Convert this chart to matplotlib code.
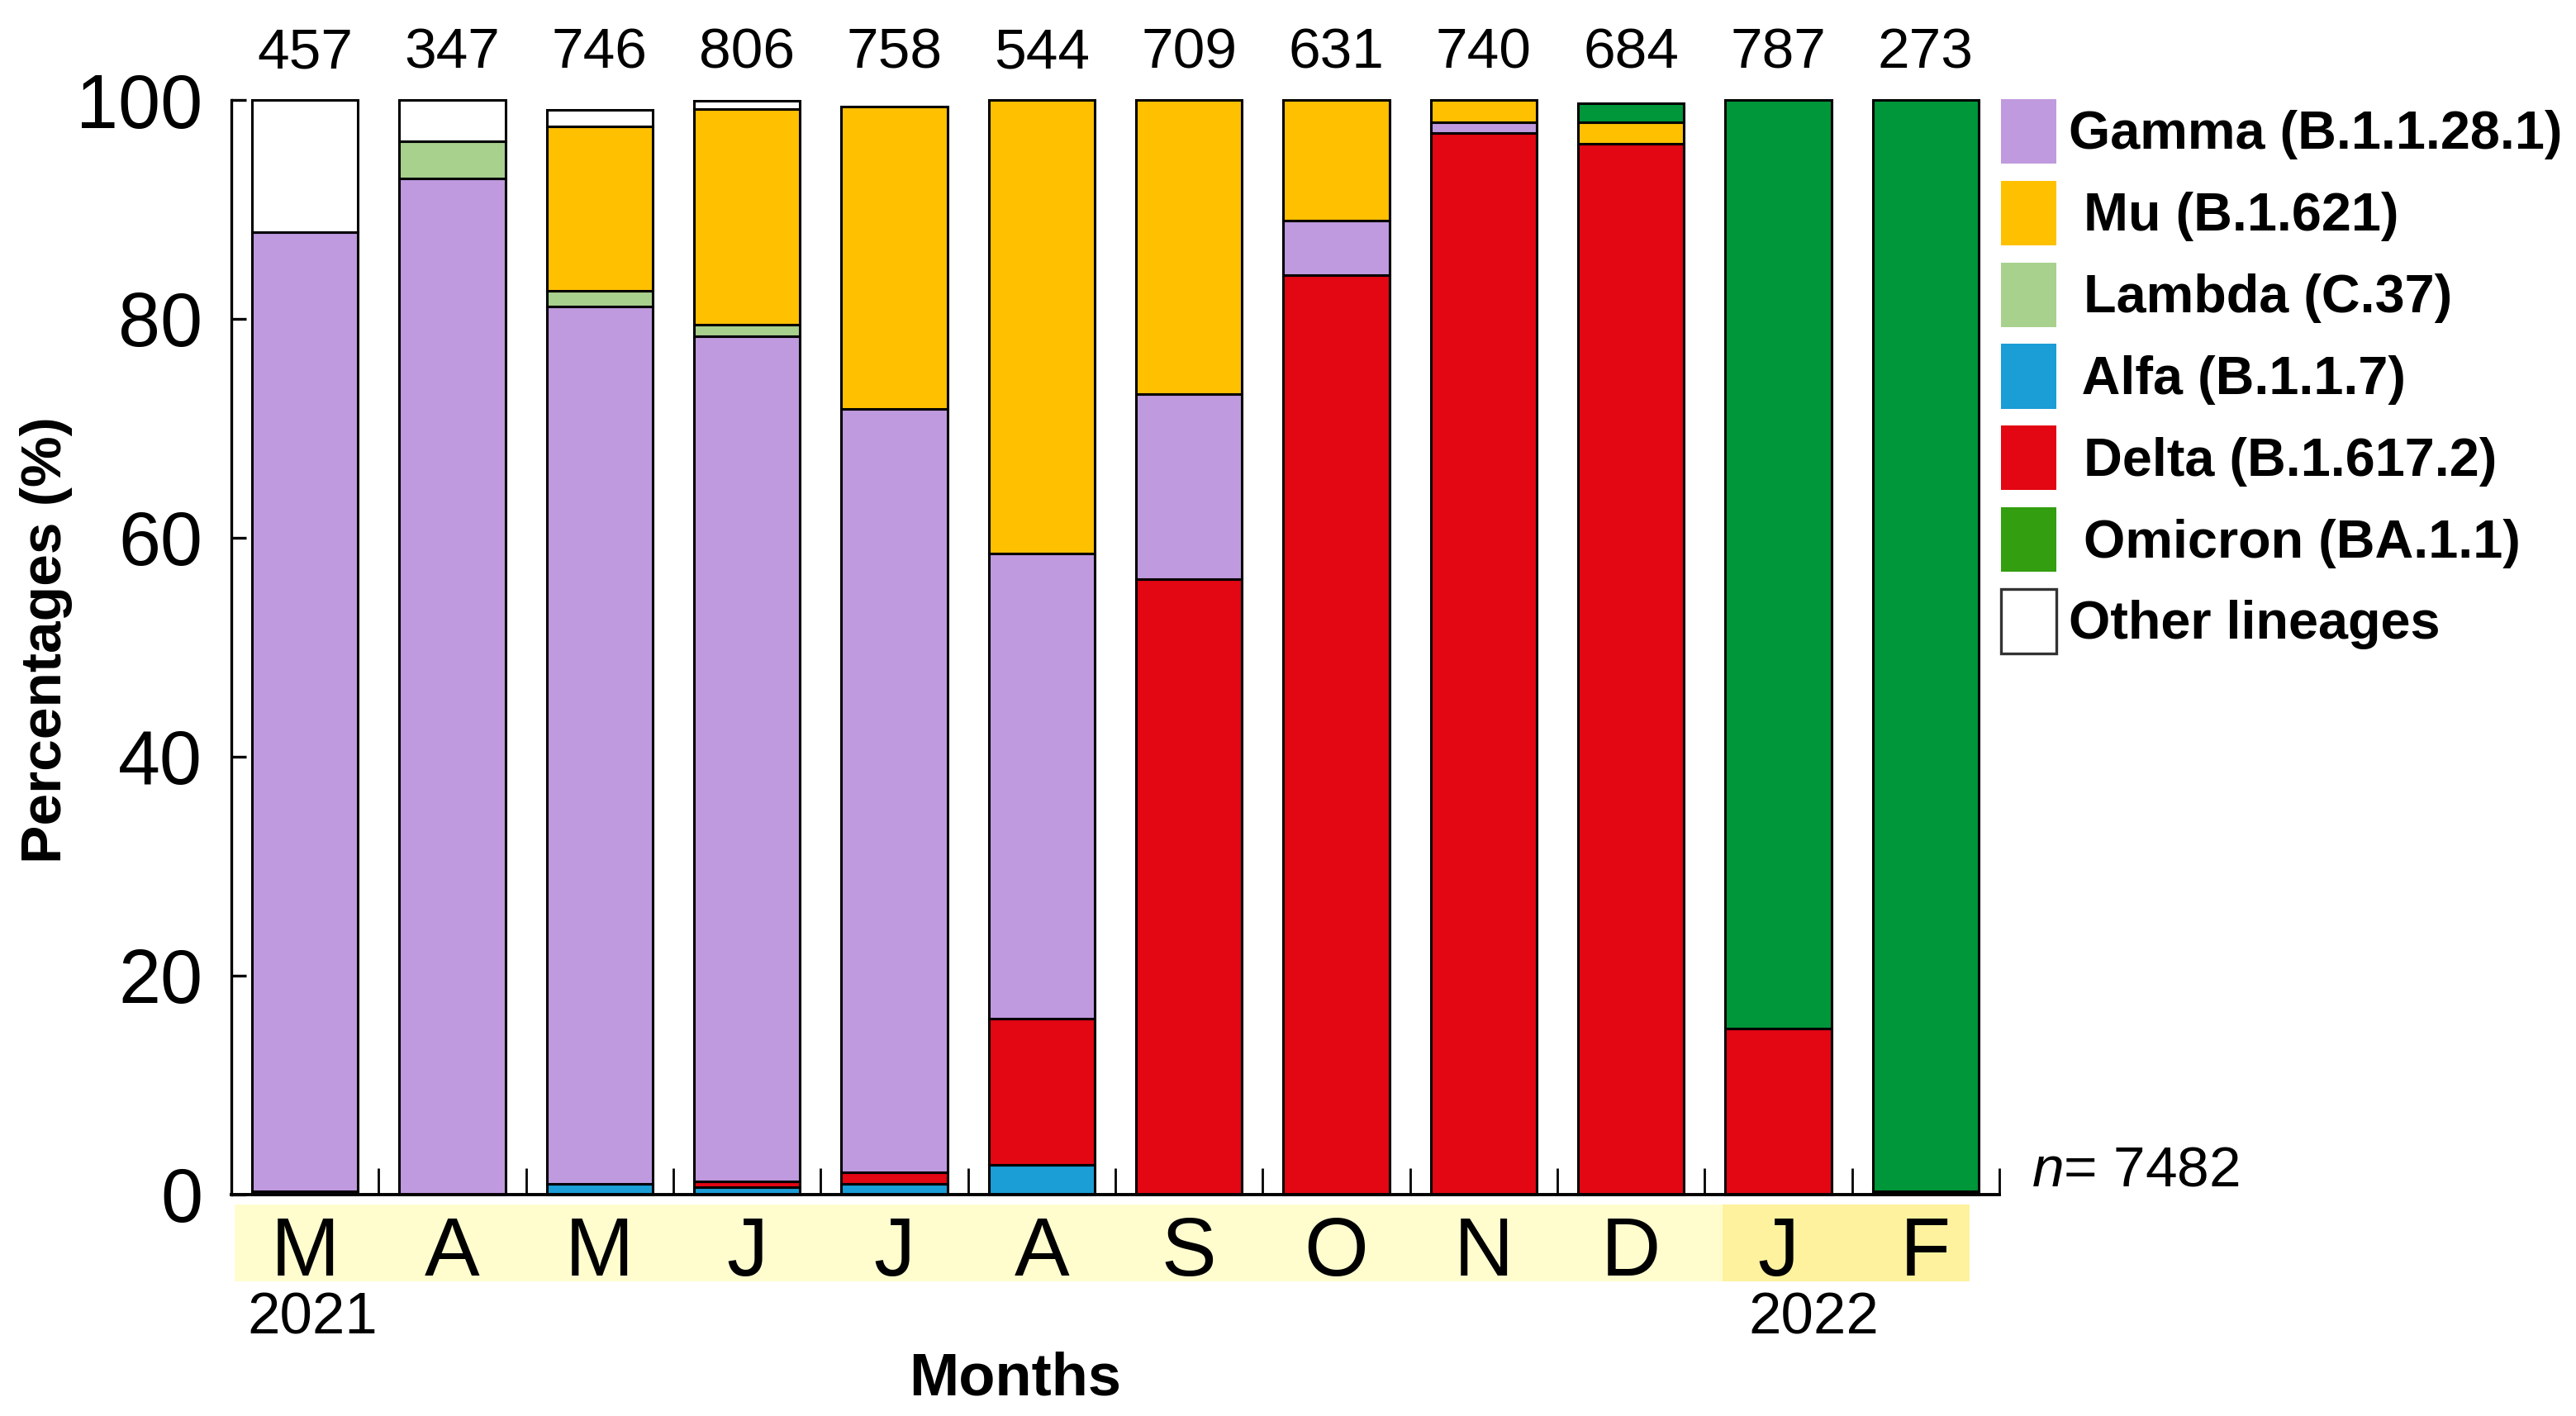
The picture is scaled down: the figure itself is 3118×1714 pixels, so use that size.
import matplotlib
matplotlib.use('Agg')
import matplotlib.pyplot as plt
from matplotlib.patches import Patch, Rectangle
import numpy as np

plt.rcParams['font.family'] = ['Liberation Sans', 'DejaVu Sans']
plt.rcParams['mathtext.fontset'] = 'custom'
plt.rcParams['mathtext.rm'] = 'Liberation Sans'
plt.rcParams['mathtext.it'] = 'Liberation Sans:italic'

# monthly share of each lineage (%), Mar 2021 - Feb 2022
months = ['M', 'A', 'M', 'J', 'J', 'A', 'S', 'O', 'N', 'D', 'J', 'F']
counts = [457, 347, 746, 806, 758, 544, 709, 631, 740, 684, 787, 273]
alfa = [0.3, 0, 1.0, 0.7, 1.0, 2.7, 0, 0, 0, 0, 0, 0]
delta = [0, 0, 0, 0.5, 1.0, 13.4, 56.2, 84.0, 97.0, 96.0, 15.2, 0.3]
gamma = [87.6, 92.8, 80.1, 77.2, 69.8, 42.5, 16.9, 5.0, 1.0, 0, 0, 0]
lambda_ = [0, 3.4, 1.5, 1.1, 0, 0, 0, 0, 0, 0, 0, 0]
mu = [0, 0, 15.0, 19.7, 27.6, 41.4, 26.9, 11.0, 2.0, 2.0, 0, 0]
omicron = [0, 0, 0, 0, 0, 0, 0, 0, 0, 1.7, 84.8, 99.7]
other = [12.1, 3.8, 1.5, 0.7, 0, 0, 0, 0, 0, 0, 0, 0]
total = 7482

# stacking order bottom -> top
stack = [
    (alfa, '#1B9DD6'),
    (delta, '#E30613'),
    (gamma, '#C09ADF'),
    (lambda_, '#A9D18E'),
    (mu, '#FFC000'),
    (omicron, '#00963A'),
    (other, '#FFFFFF'),
]

fig = plt.figure(figsize=(15.59, 8.57), dpi=200)
ax = fig.add_axes([0.0898, 0.1564, 0.6863, 0.7730])

x = np.arange(len(months))
bottom = np.zeros(len(months))
for vals, col in stack:
    vals = np.array(vals, dtype=float)
    keep = vals > 0
    ax.bar(x[keep], vals[keep], bottom=bottom[keep], width=0.72, color=col,
           edgecolor='black', linewidth=1.1, clip_on=False, zorder=3)
    bottom += vals

ax.set_xlim(-0.5, 11.5)
ax.set_ylim(0, 100)
for s in ['top', 'right']:
    ax.spines[s].set_visible(False)
ax.spines['left'].set_linewidth(1.2)
ax.spines['bottom'].set_linewidth(1.4)
ax.spines['bottom'].set_zorder(4)

ax.set_yticks([0, 20, 40, 60, 80, 100])
ax.tick_params(axis='y', direction='in', length=6.5, width=1.2, pad=12.5,
               labelsize=33)
ax.set_xticks(np.arange(0.5, 12, 1))
ax.set_xticklabels([])
ax.tick_params(axis='x', direction='in', length=11.5, width=1.0)

# month band under the axis
ax.add_patch(Rectangle((-0.48, -7.9), 10.1, 7.0, facecolor='#FFFDCE',
                       edgecolor='none', clip_on=False, zorder=1))
ax.add_patch(Rectangle((9.62, -7.9), 1.68, 7.0, facecolor='#FFF29E',
                       edgecolor='none', clip_on=False, zorder=1))
for i, m in enumerate(months):
    ax.text(i, -7.4, m, ha='center', va='baseline', fontsize=36,
            zorder=2, clip_on=False)
ax.text(0.05, -12.7, '2021', ha='center', va='baseline', fontsize=25.5,
        clip_on=False)
ax.text(10.24, -12.7, '2022', ha='center', va='baseline', fontsize=25.5,
        clip_on=False)
ax.text(4.82, -18.3, 'Months', ha='center', va='baseline', fontsize=26,
        fontweight='bold', clip_on=False)

for i, c in enumerate(counts):
    ax.text(i, 102.9, str(c), ha='center', va='baseline', fontsize=25,
            clip_on=False)

ax.text(11.72, 0.75, r'$\it{n}$= ' + str(total), ha='left', va='baseline',
        fontsize=25, clip_on=False)

fig.text(0.018, 0.548, 'Percentages (%)', rotation=90, ha='center',
         va='center', fontsize=25, fontweight='bold')

labels = ['Gamma (B.1.1.28.1)', ' Mu (B.1.621)', ' Lambda (C.37)',
          ' Alfa (B.1.1.7)', ' Delta (B.1.617.2)', ' Omicron (BA.1.1)',
          'Other lineages']
leg_colors = ['#C09ADF', '#FFC000', '#A9D18E', '#1B9DD6', '#E30613',
              '#339E10', '#FFFFFF']
handles = []
for lab, col in zip(labels, leg_colors):
    if col == '#FFFFFF':
        handles.append(Patch(facecolor=col, edgecolor='#333333',
                             linewidth=1.2, label=lab))
    else:
        handles.append(Patch(facecolor=col, edgecolor='none', label=lab))
fig.legend(handles=handles, loc='upper left', bbox_to_anchor=(0.7768, 0.93),
           frameon=False, borderpad=0, borderaxespad=0,
           prop={'size': 23.3, 'weight': 'bold'},
           handlelength=1.04, handleheight=1.48, handletextpad=0.22,
           labelspacing=0.32)

fig.savefig('out.png', dpi=200)
plt.close(fig)
